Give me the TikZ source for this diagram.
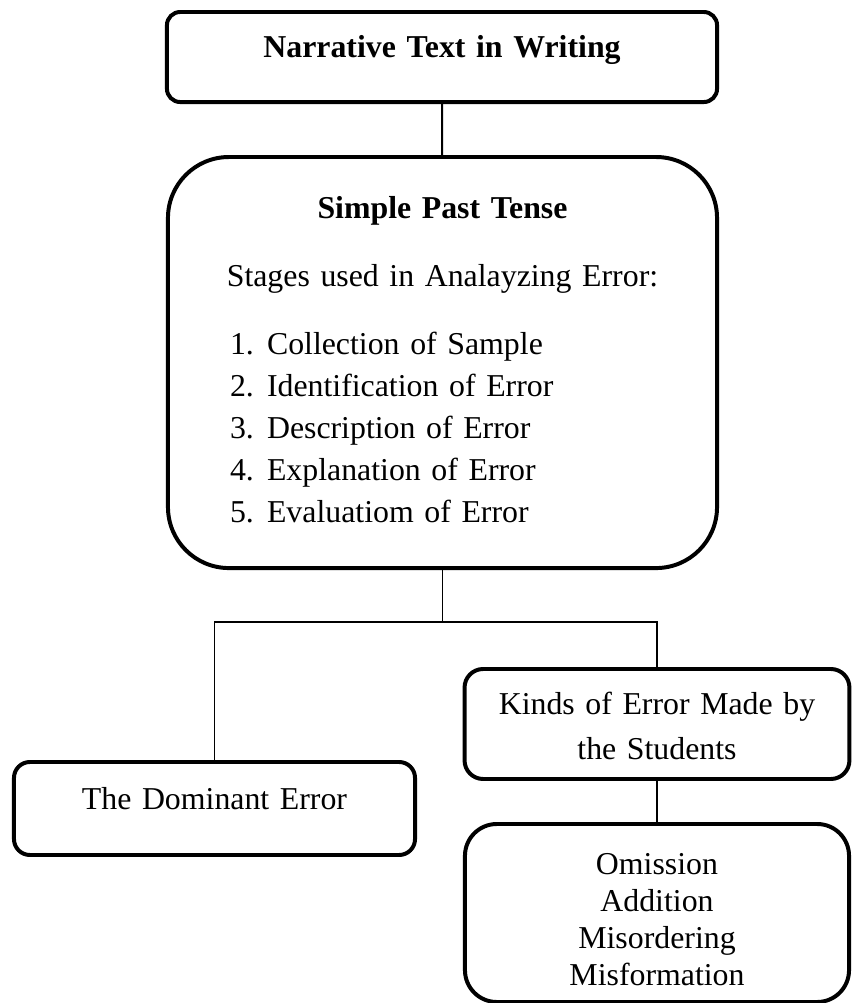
\documentclass[tikz,border=0pt]{standalone}
\usepackage{fontspec}
\setmainfont{Liberation Serif}

\newcommand{\stageline}[2]{\makebox[207pt][l]{\hspace*{23.4pt}\makebox[13.95pt][l]{#1.}#2}}

\tikzset{
  frame/.style={draw, line width=1.5pt, inner sep=0pt, align=center, anchor=north,
    font=\fontsize{12pt}{15.8pt}\selectfont},
  link/.style={draw, line width=0.7pt}
}

\begin{document}
\begin{tikzpicture}[x=0.377pt, y=-0.377pt]
        \path[use as bounding box, fill=white] (0,0) rectangle (851,1003);

        \node[frame, rounded corners=5pt, text width=207.4pt, text height=16.97pt, text depth=16.97pt]
            at (442,10) (narrative) {\textbf{Narrative Text in Writing}};
        \node[frame, rounded corners=23pt, text width=207pt, text height=23.37pt, text depth=131.6pt]
            at (442.5,155) (pasttense) {\textbf{Simple Past Tense}\\[9.8pt]
            Stages used in Analayzing Error:\\[9.8pt]
            \stageline{1}{Collection of Sample}\\
            \stageline{2}{Identification of Error}\\
            \stageline{3}{Description of Error}\\
            \stageline{4}{Explanation of Error}\\
            \stageline{5}{Evaluatiom of Error}};
        \node[frame, rounded corners=6pt, text width=151.2pt, text height=17.72pt, text depth=17.34pt]
            at (214.5,760) (dominant) {The Dominant Error};
        \node[frame, rounded corners=7pt, text width=145.1pt, text height=17.34pt, text depth=24.13pt]
            at (657,667) (kinds) {Kinds of Error Made by\\[0.8pt] the Students};
        \node[frame, rounded corners=12pt, text width=144.8pt, text height=18.85pt, text depth=48.26pt,
            font=\fontsize{12pt}{13.95pt}\selectfont]
            at (657,822) (kindlist) {Omission\\Addition\\Misordering\\Misformation};

        \draw[link] (narrative) -- (pasttense);
        \draw[link] (pasttense.south) -- ++(0,52) coordinate (fork);
        \draw[link] (dominant.north) |- (fork) -| (kinds.north);
        \draw[link] (kinds.south) -- (kindlist.north);

    \end{tikzpicture}
\end{document}
